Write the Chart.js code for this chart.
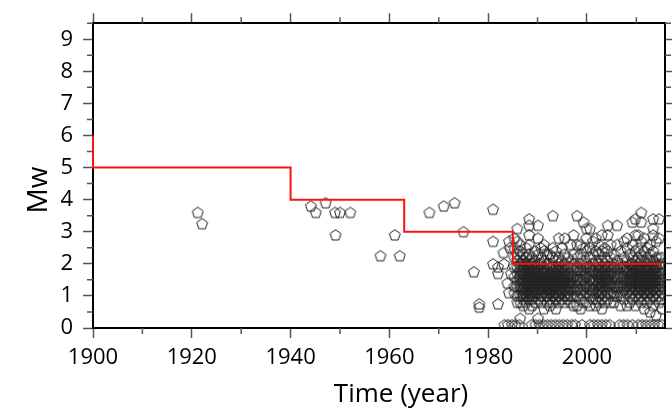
<!DOCTYPE html>
<html>
<head>
<meta charset="utf-8">
<script src="https://cdn.jsdelivr.net/npm/chart.js@4.4.0/dist/chart.umd.min.js"></script>
<style>
html, body { margin: 0; padding: 0; background: #fff; }
</style>
</head>
<body>
<canvas id="quakes" width="672" height="414"></canvas>
<script>
// step line (completeness magnitude by period)
const stepYear = [1900, 1900, 1940, 1963, 1985, 2015.2];
const stepMw = [6, 5, 4, 3, 2, 2];

// early, sparse events
const oldYear = [1921.2, 1922.1, 1944.1, 1945.1, 1947.1, 1949.0, 1950.0, 1952.1, 1949.1, 1958.2,
  1961.1, 1962.1, 1968.1, 1971.0, 1973.2, 1975.0, 1977.1, 1978.2, 1978.2, 1981.0,
  1981.0, 1981.0, 1982.0, 1982.0, 1982.0, 1983.2, 1983.1, 1984.2, 1984.4, 1983.9,
  1984.2, 1984.6];
const oldMw = [3.6, 3.25, 3.8, 3.6, 3.9, 3.6, 3.6, 3.6, 2.9, 2.25,
  2.9, 2.25, 3.6, 3.8, 3.9, 3.0, 1.75, 0.75, 0.65, 3.7,
  2.7, 2.0, 1.9, 1.7, 0.75, 2.0, 2.35, 2.7, 2.5, 1.4,
  1.1, 1.7];

// dense recent catalogue, one column of magnitudes per time slot
const colYear = [1985.3, 1985.9, 1986.5, 1987.1, 1987.7, 1988.3, 1988.9, 1989.5, 1990.1, 1990.7,
  1991.3, 1991.9, 1992.5, 1993.1, 1993.7, 1994.3, 1994.9, 1995.5, 1996.1, 1996.7,
  1997.3, 1998.0, 1998.7, 1999.3, 1999.9, 2000.6, 2001.2, 2001.8, 2002.4, 2003.0,
  2003.6, 2004.2, 2004.8, 2005.5, 2006.1, 2006.8, 2007.5, 2008.1, 2008.7, 2009.2,
  2009.8, 2010.4, 2011.0, 2011.6, 2012.2, 2012.8, 2013.4, 2014.0, 2014.6, 2015.2];
const colMw = [
  [2.8, 2.5, 2.2, 1.9, 1.6, 1.3, 1.1],
  [3.1, 2.7, 2.3, 2.1, 1.9, 1.7, 1.5, 1.3, 1.0, 0.8],
  [2.6, 2.4, 2.2, 2.0, 1.9, 1.8, 1.7, 1.6, 1.5, 1.4, 1.3, 1.2, 1.0, 0.8, 0.3],
  [2.3, 2.1, 2.0, 1.9, 1.8, 1.7, 1.6, 1.5, 1.4, 1.3, 1.2, 1.1, 1.0, 0.9, 0.7],
  [2.5, 2.2, 2.0, 1.9, 1.8, 1.7, 1.6, 1.5, 1.4, 1.3, 1.2, 1.1, 1.0, 0.8],
  [3.4, 3.2, 2.9, 2.6, 2.3, 2.1, 2.0, 1.9, 1.8, 1.7, 1.6, 1.5, 1.4, 1.3, 1.2, 1.1, 1.0, 0.9, 0.6],
  [2.2, 2.0, 1.9, 1.8, 1.7, 1.6, 1.5, 1.4, 1.3, 1.2, 1.1, 1.0, 0.9, 0.7],
  [2.4, 2.1, 1.9, 1.8, 1.7, 1.6, 1.5, 1.4, 1.3, 1.2, 1.1, 1.0, 0.8],
  [3.2, 2.8, 2.3, 2.0, 1.9, 1.8, 1.7, 1.6, 1.5, 1.4, 1.3, 1.2, 1.1, 0.9, 0.3],
  [2.5, 2.2, 2.0, 1.8, 1.7, 1.6, 1.5, 1.4, 1.3, 1.2, 1.1, 1.0, 0.8],
  [2.6, 2.4, 2.1, 1.9, 1.8, 1.7, 1.6, 1.5, 1.4, 1.3, 1.2, 1.0, 0.6],
  [2.3, 2.0, 1.8, 1.7, 1.6, 1.5, 1.4, 1.3, 1.2, 1.1, 1.0, 0.8],
  [2.3, 2.0, 1.9, 1.7, 1.6, 1.5, 1.4, 1.3, 1.2, 1.1, 0.9, 0.7],
  [3.5, 2.5, 2.2, 1.9, 1.8, 1.7, 1.6, 1.5, 1.4, 1.3, 1.2, 1.1, 1.0, 0.8],
  [2.4, 2.1, 1.9, 1.8, 1.7, 1.6, 1.5, 1.4, 1.3, 1.2, 1.1, 1.0, 0.9, 0.6],
  [2.8, 2.2, 2.0, 1.9, 1.8, 1.7, 1.6, 1.5, 1.4, 1.3, 1.2, 1.1, 1.0, 0.8],
  [2.5, 2.1, 1.9, 1.8, 1.7, 1.6, 1.5, 1.4, 1.3, 1.2, 1.1, 0.9],
  [2.8, 2.3, 2.0, 1.8, 1.7, 1.6, 1.5, 1.4, 1.3, 1.2, 1.0, 0.8],
  [2.2, 1.9, 1.7, 1.6, 1.5, 1.4, 1.3, 1.2, 1.1, 1.0, 0.9],
  [2.6, 2.1, 1.9, 1.7, 1.6, 1.5, 1.4, 1.3, 1.2, 1.0, 0.8],
  [2.9, 2.3, 2.0, 1.8, 1.6, 1.4, 1.2, 1.0, 0.7],
  [3.5, 2.6, 2.2, 1.9, 1.8, 1.6, 1.5, 1.3, 1.2, 1.0, 0.7],
  [2.6, 2.3, 2.0, 1.8, 1.7, 1.5, 1.4, 1.2, 1.1, 0.9, 0.6],
  [3.3, 2.5, 2.1, 1.9, 1.8, 1.6, 1.5, 1.3, 1.2, 1.0, 0.8],
  [3.1, 2.8, 2.4, 2.0, 1.9, 1.7, 1.6, 1.4, 1.3, 1.1, 0.8],
  [3.1, 2.5, 2.2, 1.9, 1.8, 1.6, 1.5, 1.3, 1.2, 1.0, 0.7],
  [2.7, 2.3, 2.0, 1.8, 1.7, 1.5, 1.4, 1.2, 1.1, 0.9],
  [2.8, 2.4, 2.1, 1.9, 1.7, 1.5, 1.3, 1.1, 0.9, 0.7],
  [2.6, 2.3, 2.0, 1.9, 1.8, 1.7, 1.6, 1.5, 1.4, 1.3, 1.2, 1.1, 1.0, 0.8],
  [2.9, 2.4, 2.1, 1.9, 1.8, 1.7, 1.6, 1.5, 1.4, 1.3, 1.2, 1.1, 0.9, 0.6],
  [2.5, 2.2, 2.0, 1.9, 1.8, 1.7, 1.6, 1.5, 1.4, 1.3, 1.2, 1.0, 0.8],
  [3.2, 2.9, 2.4, 2.1, 1.9, 1.7, 1.6, 1.5, 1.4, 1.3, 1.1, 0.9],
  [2.6, 2.2, 1.9, 1.8, 1.7, 1.5, 1.4, 1.3, 1.1, 0.8],
  [2.3, 2.0, 1.9, 1.7, 1.6, 1.4, 1.3, 1.1, 1.0, 0.8],
  [3.2, 2.6, 2.1, 1.9, 1.8, 1.6, 1.5, 1.3, 1.2, 1.0],
  [2.4, 2.0, 1.9, 1.7, 1.6, 1.4, 1.3, 1.1, 1.0, 0.7],
  [2.7, 2.2, 1.9, 1.8, 1.6, 1.5, 1.3, 1.2, 0.9],
  [2.8, 2.5, 2.1, 1.9, 1.8, 1.7, 1.5, 1.4, 1.3, 1.1, 0.7],
  [2.3, 2.0, 1.8, 1.7, 1.6, 1.5, 1.4, 1.3, 1.2, 1.0, 0.8],
  [3.3, 2.6, 2.2, 2.0, 1.9, 1.8, 1.7, 1.6, 1.5, 1.4, 1.3, 1.2, 1.1, 0.9],
  [3.4, 2.9, 2.4, 2.1, 1.9, 1.8, 1.7, 1.6, 1.5, 1.4, 1.3, 1.2, 1.0, 0.7],
  [2.9, 2.5, 2.2, 2.0, 1.9, 1.8, 1.7, 1.6, 1.5, 1.4, 1.3, 1.2, 1.1, 0.9],
  [3.6, 3.3, 2.7, 2.3, 2.1, 1.9, 1.8, 1.7, 1.6, 1.5, 1.4, 1.3, 1.2, 1.0, 0.8],
  [2.8, 2.4, 2.1, 1.9, 1.8, 1.7, 1.6, 1.5, 1.4, 1.3, 1.2, 1.1, 0.9, 0.6],
  [2.5, 2.2, 2.0, 1.9, 1.8, 1.7, 1.6, 1.5, 1.4, 1.3, 1.2, 1.1, 1.0, 0.8],
  [2.6, 2.3, 2.1, 1.9, 1.8, 1.7, 1.6, 1.5, 1.4, 1.3, 1.2, 1.1, 0.9, 0.5],
  [3.4, 3.1, 2.9, 2.4, 2.1, 1.9, 1.8, 1.7, 1.6, 1.5, 1.4, 1.3, 1.2, 1.0, 0.7],
  [2.7, 2.2, 2.0, 1.9, 1.8, 1.7, 1.6, 1.5, 1.4, 1.3, 1.2, 1.1, 0.9, 0.4],
  [3.4, 2.8, 2.2, 2.0, 1.8, 1.7, 1.6, 1.5, 1.4, 1.3, 1.2, 1.0, 0.8],
  [2.2, 2.0, 1.9, 1.7, 1.5, 1.3, 1.1, 0.9, 0.6]
];

// tiny events sitting on the bottom row
const zeroYear = [1983.3, 1984.0, 1984.8, 1985.5, 1986.3, 1988.8, 1989.6, 1990.4, 1991.2, 1992.0,
  1992.8, 1993.6, 1994.4, 1995.2, 1996.0, 1996.9, 1997.6, 1999.0, 2000.6, 2001.4,
  2002.2, 2003.0, 2003.8, 2004.6, 2006.6, 2007.4, 2008.2, 2009.2, 2010.4, 2011.2,
  2012.0, 2012.8, 2013.6, 2014.4, 2015.2];
const zeroMw = 0.1;

// axes
const xMajor = [1900, 1920, 1940, 1960, 1980, 2000];
const xMinor = [1910, 1930, 1950, 1970, 1990, 2010];
const yMajor = [0, 1, 2, 3, 4, 5, 6, 7, 8, 9];
const yMinor = [0.5, 1.5, 2.5, 3.5, 4.5, 5.5, 6.5, 7.5, 8.5, 9.5];

// build the point list
var quakes = [];
for (let i = 0; i < oldYear.length; i++) quakes.push({x: oldYear[i], y: oldMw[i]});
for (let i = 0; i < colYear.length; i++) {
  colMw[i].forEach(m => quakes.push({x: colYear[i], y: m}));
}
zeroYear.forEach(t => quakes.push({x: t, y: zeroMw}));

var steps = stepYear.map((t, i) => ({x: t, y: stepMw[i]}));

// open pentagon marker
function pentagon() {
  const c = document.createElement('canvas');
  c.width = 14; c.height = 14;
  const g = c.getContext('2d');
  g.strokeStyle = '#222';
  g.lineWidth = 1;
  g.beginPath();
  for (let k = 0; k < 5; k++) {
    const a = -Math.PI / 2 + k * 2 * Math.PI / 5;
    const px = 7 + 5.7 * Math.cos(a), py = 7.4 + 5.7 * Math.sin(a);
    if (k == 0) g.moveTo(px, py); else g.lineTo(px, py);
  }
  g.closePath();
  g.stroke();
  return c;
}

const tickFont = {family: '"Open Sans"', size: 22};
const tickGrid = {display: true, drawOnChartArea: false, drawTicks: true, tickLength: 10, tickColor: '#555', tickWidth: 1.5};
const frame = {display: true, color: '#000', width: 2, z: -1};

// minor ticks and axis titles
const extras = {
  id: 'extras',
  afterDraw(chart) {
    const ctx = chart.ctx, a = chart.chartArea, sx = chart.scales.x, sy = chart.scales.y;
    ctx.save();
    ctx.strokeStyle = '#555';
    ctx.lineWidth = 1.5;
    ctx.beginPath();
    xMinor.forEach(v => {
      const px = sx.getPixelForValue(v);
      ctx.moveTo(px, a.bottom); ctx.lineTo(px, a.bottom + 6);
      ctx.moveTo(px, a.top); ctx.lineTo(px, a.top - 6);
    });
    yMinor.forEach(v => {
      const py = sy.getPixelForValue(v);
      ctx.moveTo(a.left, py); ctx.lineTo(a.left - 6, py);
      ctx.moveTo(a.right, py); ctx.lineTo(a.right + 6, py);
    });
    ctx.stroke();
    ctx.fillStyle = '#000';
    ctx.font = '26px "Open Sans"';
    ctx.textAlign = 'center';
    ctx.textBaseline = 'alphabetic';
    ctx.fillText('Time (year)', 401, 402);
    ctx.font = '28px "Open Sans"';
    ctx.translate(47, 190);
    ctx.rotate(-Math.PI / 2);
    ctx.fillText('Mw', 0, 0);
    ctx.restore();
  }
};

new Chart(document.getElementById('quakes'), {
  type: 'scatter',
  data: {
    datasets: [
      {
        type: 'line',
        data: steps,
        stepped: 'before',
        borderColor: '#ff1010',
        borderWidth: 2,
        pointRadius: 0,
        fill: false,
        clip: false
      },
      {
        data: quakes,
        pointStyle: pentagon(),
        pointRadius: 6,
        pointHoverRadius: 6
      }
    ]
  },
  options: {
    responsive: false,
    animation: false,
    events: [],
    layout: {padding: 0},
    plugins: {legend: {display: false}, tooltip: {enabled: false}},
    scales: {
      x: {
        type: 'linear', position: 'bottom', min: 1900, max: 2015.8,
        afterBuildTicks: s => { s.ticks = xMajor.map(v => ({value: v})); },
        afterFit: s => { s.height = 86; },
        ticks: {font: tickFont, color: '#000', padding: 7, autoSkip: false, maxRotation: 0, callback: v => String(v)},
        grid: tickGrid,
        border: frame
      },
      x2: {
        type: 'linear', position: 'top', min: 1900, max: 2015.8,
        afterBuildTicks: s => { s.ticks = xMajor.map(v => ({value: v})); },
        afterFit: s => { s.height = 15; },
        ticks: {display: false},
        grid: tickGrid,
        border: frame
      },
      y: {
        type: 'linear', position: 'left', min: 0, max: 9.5,
        afterBuildTicks: s => { s.ticks = yMajor.map(v => ({value: v})); },
        afterFit: s => { s.width = 93; },
        ticks: {font: tickFont, color: '#000', padding: 10, autoSkip: false, callback: v => String(v)},
        grid: tickGrid,
        border: frame
      },
      y2: {
        type: 'linear', position: 'right', min: 0, max: 9.5,
        afterBuildTicks: s => { s.ticks = yMajor.map(v => ({value: v})); },
        afterFit: s => { s.width = 4; },
        ticks: {display: false},
        grid: tickGrid,
        border: frame
      }
    }
  },
  plugins: [extras]
});
</script>
</body>
</html>
